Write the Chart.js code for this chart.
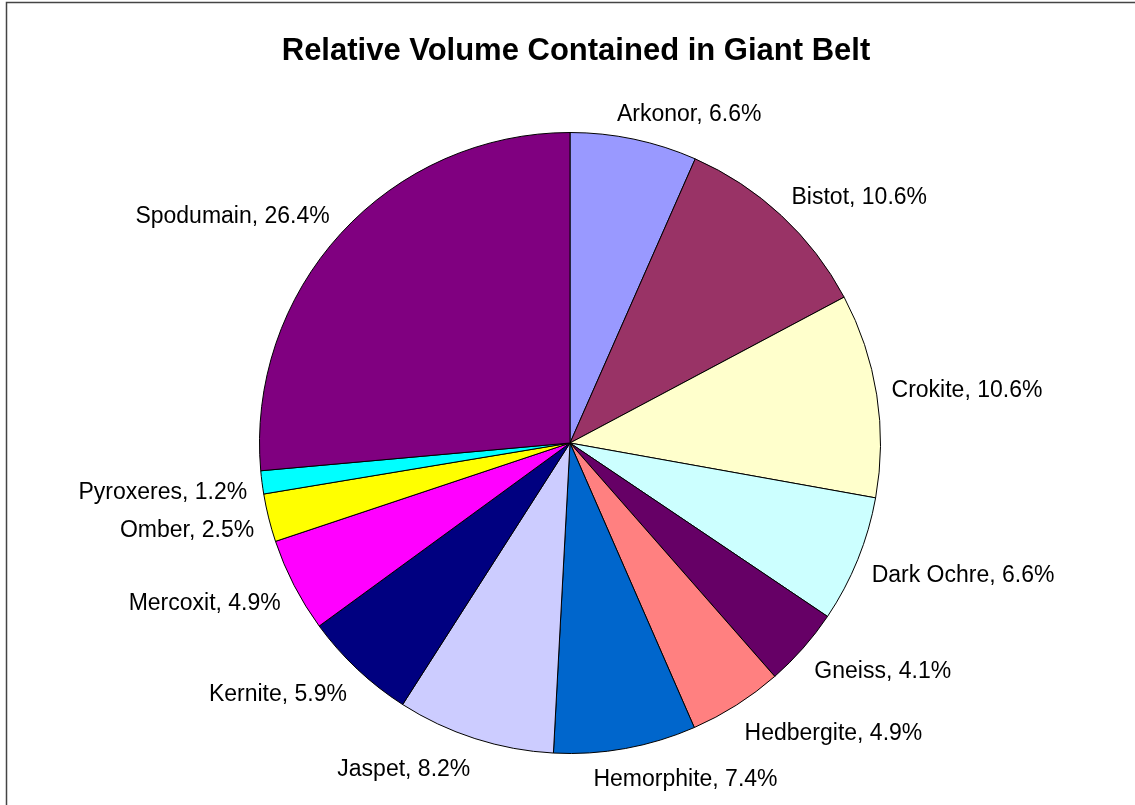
<!DOCTYPE html>
<html>
<head>
<meta charset="utf-8">
<script src="https://cdn.jsdelivr.net/npm/chart.js@4"></script>
<style>
  html, body { margin: 0; padding: 0; background: #fff; }
  #wrap { width: 1135px; height: 805px; position: relative; }
</style>
</head>
<body>
<div id="wrap"><canvas id="myChart" width="1135" height="805"></canvas></div>
<script>
const chartTitle = 'Relative Volume Contained in Giant Belt';
const ores = ['Arkonor', 'Bistot', 'Crokite', 'Dark Ochre', 'Gneiss', 'Hedbergite',
  'Hemorphite', 'Jaspet', 'Kernite', 'Mercoxit', 'Omber', 'Pyroxeres', 'Spodumain'];
const volumePct = [6.6, 10.6, 10.6, 6.6, 4.1, 4.9, 7.4, 8.2, 5.9, 4.9, 2.5, 1.2, 26.4];
const sliceColors = ['#9999FF', '#993366', '#FFFFCC', '#CCFFFF', '#660066', '#FF8080',
  '#0066CC', '#CCCCFF', '#000080', '#FF00FF', '#FFFF00', '#00FFFF', '#800080'];

const FONT = 'Arial, "Liberation Sans", sans-serif';

// white page, frame line at top / left, and the title
const frame = {
  id: 'frame',
  beforeDraw(chart) {
    const c = chart.ctx;
    c.save();
    c.fillStyle = '#fff';
    c.fillRect(0, 0, chart.width, chart.height);
    c.strokeStyle = '#444';
    c.lineWidth = 1.5;
    c.strokeRect(6.5, 2.5, chart.width + 20, chart.height + 20);
    c.font = 'bold 31px ' + FONT;
    c.fillStyle = '#000';
    c.textAlign = 'center';
    c.textBaseline = 'middle';
    c.fillText(chartTitle, 576, 51);
    c.restore();
  }
};

// excel style outside labels "Name, x.x%"
const outsideLabels = {
  id: 'outsideLabels',
  afterDatasetsDraw(chart) {
    const c = chart.ctx;
    const meta = chart.getDatasetMeta(0);
    c.save();
    c.font = '23px ' + FONT;
    c.fillStyle = '#000';
    c.textAlign = 'center';
    c.textBaseline = 'middle';
    meta.data.forEach((arc, i) => {
      const p = arc.getProps(['x', 'y', 'startAngle', 'endAngle', 'outerRadius'], true);
      const mid = (p.startAngle + p.endAngle) / 2;
      const dx = Math.cos(mid), dy = Math.sin(mid);
      const txt = ores[i] + ', ' + volumePct[i].toFixed(1) + '%';
      const w = c.measureText(txt).width;
      const r = p.outerRadius + 15;
      const sx = Math.max(-1, Math.min(1, dx * 3.5));
      const cx = p.x + r * dx + sx * w / 2;
      const cy = p.y + r * dy + dy * 10 + (dy > 0 ? 7 : 0);
      c.fillText(txt, cx, cy);
    });
    c.restore();
  }
};

const cfg = {
  type: 'pie',
  data: {
    labels: ores,
    datasets: [{
      data: volumePct,
      backgroundColor: sliceColors,
      borderColor: '#000',
      borderWidth: 1,
      hoverOffset: 0
    }]
  },
  options: {
    responsive: false,
    animation: false,
    events: [],
    layout: {
      padding: { top: 132, bottom: 51, left: 259, right: 254 }
    },
    plugins: {
      legend: { display: false },
      tooltip: { enabled: false },
      title: { display: false }
    }
  },
  plugins: [frame, outsideLabels]
};

const cht = new Chart(document.getElementById('myChart'), cfg);
</script>
</body>
</html>
